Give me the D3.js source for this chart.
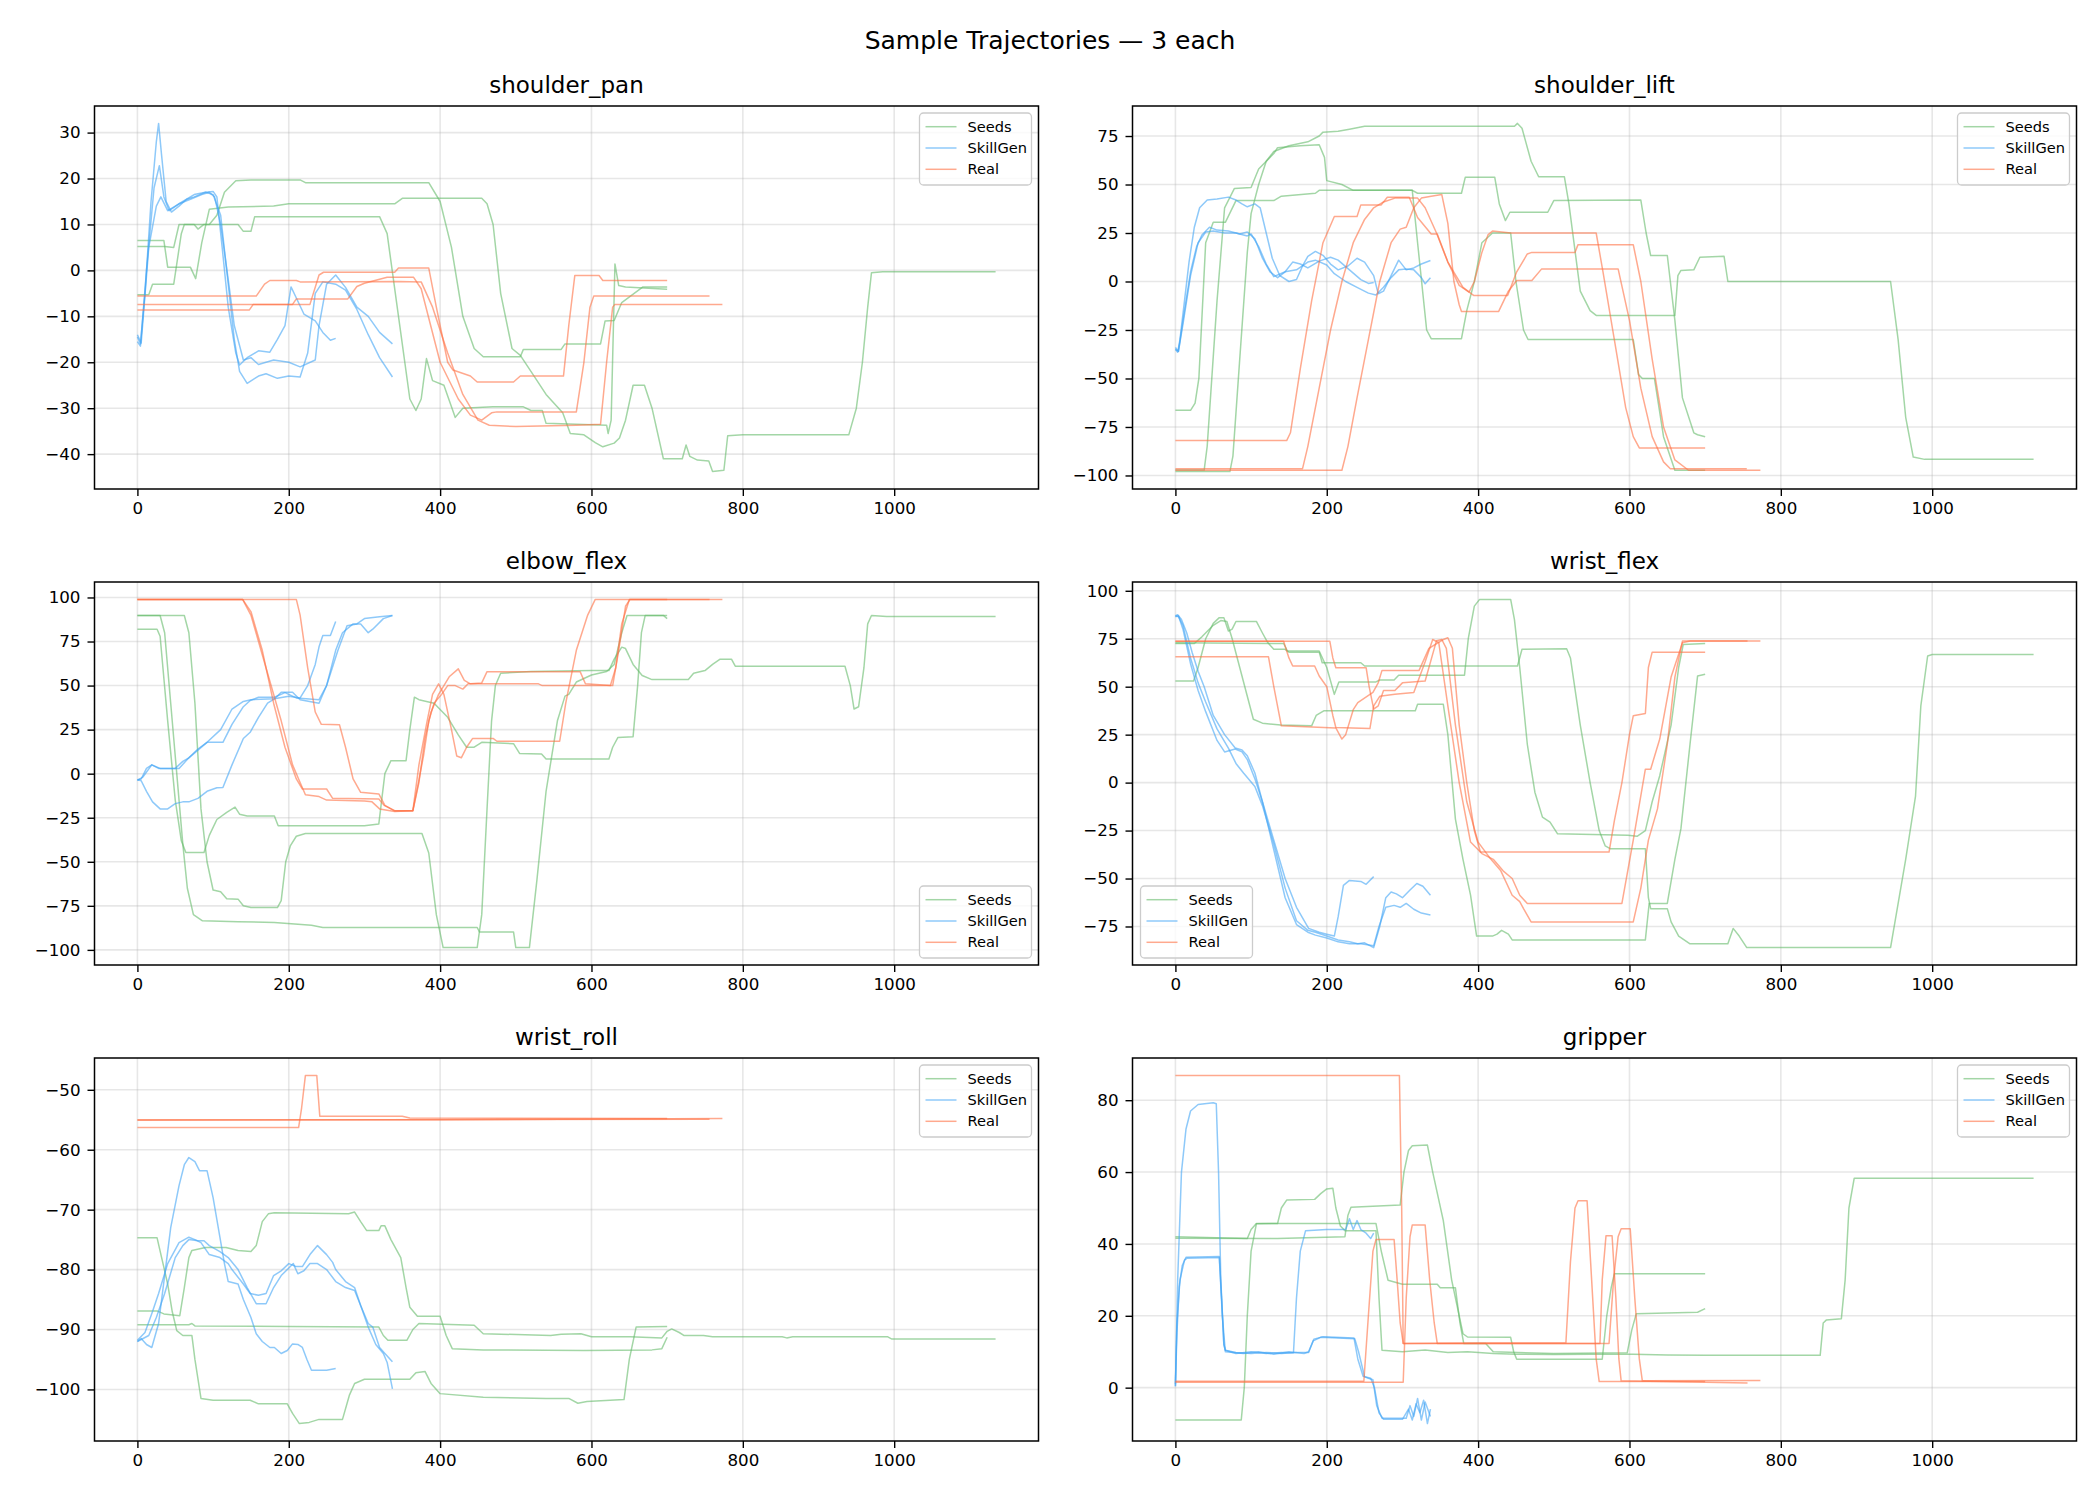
<!DOCTYPE html>
<html><head><meta charset="utf-8">
<script src="https://cdn.jsdelivr.net/npm/d3@7"></script>
<style>body{margin:0;background:#fff}svg{display:block;font-family:"DejaVu Sans",sans-serif}</style>
</head><body><svg id="chart" width="2100" height="1500"></svg>
<script>
const chartTitle = "Sample Trajectories \u2014 3 each";
const jointNames = ["shoulder_pan","shoulder_lift","elbow_flex","wrist_flex","wrist_roll","gripper"];
const seriesNames = ["Seeds","SkillGen","Real"];
const xTicks = [0,200,400,600,800,1000];
const panTicks = [-40,-30,-20,-10,0,10,20,30];
const liftTicks = [-100,-75,-50,-25,0,25,50,75];
const elbowTicks = [-100,-75,-50,-25,0,25,50,75,100];
const flexTicks = [-75,-50,-25,0,25,50,75,100];
const rollTicks = [-100,-90,-80,-70,-60,-50];
const gripTicks = [0,20,40,60,80];

// ---------- shoulder_pan ----------
const panSeeds = [
 [[0,5.2],[36,5.2],[48,5.0],[55,10],[95,10],[105,12],[115,17],[130,19.5],[150,19.7],[215,19.7],[222,19.1],[385,19.1],[400,15],[415,5],[430,-10],[445,-17],[457,-18.8],[506,-18.8],[510,-17.2],[560,-17.2],[565,-16],[612,-16],[618,-11],[630,-10.9],[640,-7],[668,-3.6],[700,-3.6]],
 [[0,6.5],[35,6.5],[40,0.7],[70,0.7],[77,-1.8],[85,6],[95,13.3],[120,13.8],[180,14],[200,14.5],[340,14.5],[350,15.7],[455,15.7],[462,14.5],[470,10],[480,-5],[495,-17],[506,-18.5],[520,-22],[540,-27],[562,-31],[572,-35.5],[590,-35.8],[605,-37.5],[615,-38.4],[630,-37.6],[637,-36.5],[645,-32.6],[655,-25],[670,-25],[680,-30],[695,-41],[720,-41],[725,-38],[730,-40.5],[740,-41.3],[755,-41.5],[760,-43.8],[775,-43.5],[780,-36],[800,-35.8],[940,-35.8],[950,-30],[958,-20],[965,-8],[970,-0.5],[985,-0.3],[1134,-0.3]],
 [[0,-5.3],[15,-5.3],[20,-3],[48,-3],[58,8],[62,10],[75,10],[80,9],[88,10],[133,10],[140,8.5],[150,8.5],[155,11.7],[320,11.7],[330,8],[345,-10],[360,-28],[368,-30.5],[375,-28],[382,-19.2],[390,-24],[405,-25],[420,-32],[430,-30],[470,-29.7],[510,-29.7],[520,-30.5],[535,-30.5],[540,-33.3],[620,-33.7],[622,-35.5],[626,-32.6],[631,1.4],[636,-3.3],[645,-3.6],[700,-4.1]]
];
const panSkill = [
 [[0,-14.5],[4,-16],[10,-5],[18,15],[25,28],[28,32],[32,25],[38,15],[45,12.7],[55,14],[65,15.5],[75,16],[90,17],[100,17.2],[105,16],[112,5],[120,-8],[130,-18],[135,-20.6],[145,-19],[160,-17.5],[175,-17.8],[185,-15],[195,-12],[203,-3.6],[210,-6],[220,-9.5],[235,-11],[245,-13.5],[255,-15.2],[262,-14.8]],
 [[0,-15.5],[4,-16.5],[12,0],[22,18],[29,22.8],[35,16],[42,13],[55,14.5],[70,15.5],[85,16.5],[95,17],[102,16],[110,10],[120,-2],[128,-12],[140,-19.5],[150,-19],[160,-20.5],[180,-19.5],[200,-20],[215,-21],[235,-19.5],[240,-12],[250,-3],[262,-1],[275,-3.7],[290,-8],[305,-10],[320,-13.5],[337,-16]],
 [[0,-14],[5,-15.8],[15,5],[25,14],[31,16],[40,13],[50,14],[60,15],[75,16.5],[90,17],[100,16.5],[110,12],[118,0],[128,-15],[135,-22],[145,-24.6],[160,-23],[170,-22.5],[185,-23.5],[200,-23],[215,-23.2],[225,-18],[235,-5],[245,-2.5],[262,-3],[275,-4.3],[290,-8.5],[305,-14],[320,-19],[337,-23.2]]
];
const panReal = [
 [[0,-5.6],[157,-5.6],[168,-3],[175,-2.2],[210,-2.2],[215,-2.5],[345,-2.4],[375,-2.5],[390,-8],[410,-18],[430,-27],[450,-32.6],[465,-33.7],[500,-34],[580,-33.7],[612,-33.5],[620,-20],[628,-8],[631,-7.4],[773,-7.4]],
 [[0,-8.6],[148,-8.6],[153,-7.4],[205,-7.4],[210,-6.2],[278,-6.2],[290,-3.5],[300,-2.8],[330,-1.5],[365,-1.5],[375,-4],[400,-20],[424,-28],[440,-31.5],[455,-32.6],[468,-31],[475,-30.8],[580,-30.8],[590,-20],[598,-8],[603,-5.6],[756,-5.6]],
 [[0,-7.4],[228,-7.4],[240,-1],[246,-0.4],[340,-0.4],[345,0.5],[385,0.5],[395,-8],[410,-20],[417,-21.7],[440,-23],[449,-24.3],[497,-24.3],[506,-23],[563,-23],[570,-12],[578,-1.1],[610,-1.1],[615,-2.2],[700,-2.2]]
];

// ---------- shoulder_lift ----------
const liftSeeds = [
 [[0,-98],[72,-98],[76,-90],[85,-40],[95,15],[100,35],[110,50],[120,62],[130,67],[150,70],[175,72],[190,75],[195,77],[215,77.5],[230,78.5],[250,80],[448,80],[452,81.5],[458,79],[470,62],[480,54],[514,54],[520,40],[535,-5],[548,-15],[556,-17.5],[660,-17.5],[664,3],[668,5.7],[685,6],[693,12.5],[725,13],[730,0],[945,0],[955,-30],[965,-70],[975,-90.5],[990,-91.7],[1134,-91.7]],
 [[0,-66.4],[20,-66.4],[26,-62.7],[31,-50],[40,20],[50,30.5],[66,30.5],[80,41.7],[130,41.7],[140,44],[185,45.5],[190,47],[313,47],[320,45.5],[378,45.5],[383,53.7],[422,53.7],[428,40],[436,31.4],[442,35.7],[492,35.7],[500,41.7],[615,42],[622,25],[628,13.4],[650,13.4],[660,-20],[670,-60],[685,-78],[690,-79],[700,-80]],
 [[0,-97.2],[38,-97.2],[42,-85],[55,-10],[65,38],[78,48],[100,48.5],[110,58],[130,66],[135,69],[165,70],[190,70.5],[197,64],[200,52],[220,50],[235,47],[313,47],[320,20],[332,-25],[338,-29.5],[378,-29.5],[385,-15],[395,0],[405,20],[419,25],[443,25],[450,0],[460,-25],[466,-29.9],[605,-29.9],[612,-48],[617,-50],[633,-50],[645,-80],[660,-97.3],[700,-97.3]]
];
const liftSkill = [
 [[0,-35],[3,-36.5],[6,-30],[12,-10],[18,10],[25,28],[32,38],[42,42],[55,42.5],[70,43.5],[80,42],[88,40],[95,38.5],[105,40],[112,38],[120,25],[128,12],[138,3],[150,0],[160,1],[168,8],[175,13],[185,15.5],[195,13.5],[205,9],[215,6],[228,8],[240,12],[250,10],[262,3],[268,-6.3],[275,-5],[285,3],[295,11],[305,6],[315,7],[325,9],[337,10.8]],
 [[0,-34],[4,-36],[10,-20],[20,5],[28,18],[35,24],[45,28],[55,26.5],[70,26],[85,24.5],[95,25.5],[105,22],[115,12],[125,5],[135,2],[145,5],[155,10],[165,9],[175,7],[190,10.5],[205,12.5],[215,11],[230,6],[245,1],[255,-1],[262,-0.5]],
 [[0,-35],[4,-36],[10,-22],[20,3],[30,20],[40,25.5],[50,26],[65,25],[80,25],[95,23.5],[100,24.5],[110,18],[120,9],[130,2.5],[145,5],[160,6],[175,10],[185,11],[200,8.5],[210,4],[225,0],[240,-3],[255,-6],[265,-7],[275,-3],[285,2],[295,6],[305,6.5],[315,6],[325,2],[330,-1.2],[337,1.9]]
];
const liftReal = [
 [[0,-82],[147,-82],[152,-78],[165,-45],[180,-10],[195,20],[210,33.5],[240,33.5],[245,39.5],[272,39.5],[280,43.4],[309,43.4],[320,33],[338,24.5],[346,24.5],[360,10],[380,-3],[394,-7.2],[439,-7.2],[451,5],[465,14.2],[471,15],[528,15],[532,19],[605,19],[615,0],[630,-40],[645,-75],[660,-92],[678,-97.3],[773,-97.3]],
 [[0,-97.3],[220,-97.3],[228,-85],[240,-60],[255,-30],[270,0],[285,20],[297,27],[305,28],[315,38],[325,43],[338,44],[352,44.8],[360,30],[368,0],[375,-12],[378,-15.5],[427,-15.5],[440,-5],[451,0.5],[471,0.5],[484,6.5],[585,6.5],[600,-20],[615,-55],[630,-80],[645,-93],[654,-96.5],[755,-96.5]],
 [[0,-96.5],[168,-96.5],[175,-85],[190,-55],[205,-25],[220,0],[235,20],[250,32],[262,38],[275,41],[290,43],[320,43],[330,38],[345,25],[360,10],[375,-2],[388,-5.5],[395,0],[405,15],[413,24],[419,26],[443,25],[556,25],[565,5],[580,-30],[595,-65],[605,-80],[613,-85.8],[700,-85.8]]
];

// ---------- elbow_flex ----------
const elbowSeeds = [
 [[0,82],[26,82],[30,78],[40,30],[50,-15],[58,-38],[64,-44.7],[88,-44.7],[95,-35],[105,-26],[118,-22],[129,-19],[135,-23],[145,-24],[181,-24],[186,-29.5],[300,-29.5],[319,-28.5],[327,0],[335,7.4],[355,7.4],[360,25],[366,43.4],[372,42],[392,40],[410,32],[424,22],[435,15],[445,15],[455,17.8],[497,17],[505,11.5],[534,11.2],[540,8.3],[623,8.3],[628,15],[635,20.6],[655,21],[661,50],[666,80],[671,89.8],[700,89.8]],
 [[0,89.8],[62,89.8],[68,80],[76,40],[84,-20],[92,-50],[100,-66],[110,-67],[118,-71],[133,-71.2],[140,-75],[150,-76],[185,-76],[190,-72],[196,-50],[202,-41],[210,-35.5],[222,-34],[376,-34],[385,-45],[395,-80],[404,-98.7],[449,-98.7],[455,-80],[462,-20],[468,30],[473,50],[480,57],[520,58],[560,58.3],[600,58.5],[623,58.5],[630,65],[640,71.8],[645,71],[655,62],[667,55.7],[680,53.4],[728,53.4],[735,57],[750,58.5],[760,62],[770,65],[785,65],[790,61],[935,61],[942,50],[947,36.7],[953,38],[960,60],[965,85],[970,89.8],[990,89.2],[1134,89.2]],
 [[0,89.8],[30,89.8],[36,80],[44,40],[52,0],[60,-40],[66,-65],[74,-80],[86,-83.5],[133,-84],[181,-84.5],[230,-86],[245,-87.3],[449,-87.3],[452,-89.8],[497,-89.8],[500,-98.7],[518,-98.7],[528,-60],[540,-10],[555,30],[565,44],[570,45],[580,52],[600,56],[620,58],[630,62],[640,80],[647,89.8],[695,89.8],[700,88]]
];
const elbowSkill = [
 [[0,-3.4],[5,-3],[12,3],[19,5],[28,3],[50,3],[60,7],[68,9],[80,14],[92,17.8],[113,17.8],[125,28],[140,38],[149,41.5],[160,43.4],[181,43.4],[195,46],[210,43],[240,42],[250,50],[262,70],[271,80],[285,85],[295,85],[305,80],[311,82],[325,88],[337,89.8]],
 [[0,-3.8],[7,-2],[19,5],[30,3],[55,3],[68,9],[92,17.8],[110,25],[125,36.7],[140,41],[150,42],[181,42.5],[200,44],[215,43],[225,50],[235,62],[240,72],[245,78.4],[255,78.4],[262,86.4]],
 [[0,-3.4],[5,-4],[12,-10],[20,-16],[30,-20],[40,-20],[50,-17],[60,-16],[68,-16],[80,-14],[92,-10],[105,-8],[113,-7.8],[125,5],[140,20],[149,23.5],[160,32],[172,40],[181,42.4],[190,46.2],[205,46.2],[215,42],[240,40],[250,50],[265,70],[277,84],[290,85],[300,88],[320,89],[337,89.8]]
];
const elbowReal = [
 [[0,98.9],[139,98.9],[150,92],[165,70],[180,40],[195,15],[210,-3],[218,-8.7],[250,-8.7],[258,-14],[319,-14.4],[326,-18],[340,-21],[364,-21],[372,-5],[380,20],[388,35],[398,45],[412,55],[424,59.5],[432,53],[440,51],[455,51.5],[462,57.9],[585,57.9],[592,51],[625,50],[632,60],[640,85],[650,98.9],[756,98.9]],
 [[0,98.9],[139,98.9],[150,90],[170,60],[190,30],[205,5],[215,-5],[222,-12],[240,-13],[250,-15],[300,-15.5],[310,-16],[320,-20],[340,-21.5],[364,-21],[370,-8],[378,10],[385,30],[392,40],[402,45],[410,50],[420,50],[430,48],[437,51],[530,51],[535,50],[628,50],[636,70],[645,95],[651,98.9],[700,98.9]],
 [[0,98.9],[210,98.9],[215,90],[225,60],[235,35],[243,28],[267,27.8],[275,15],[285,-3],[295,-10.6],[319,-11.5],[327,-18],[339,-21],[364,-21],[372,5],[382,28],[390,45],[398,51],[405,45],[415,25],[422,10],[428,9],[435,15],[443,20],[470,20],[475,18.4],[558,18.4],[566,40],[580,70],[595,90],[605,98.9],[773,98.9]]
];

// ---------- wrist_flex ----------
const flexSeeds = [
 [[0,53],[24,53],[30,60],[40,75],[50,83],[58,86],[64,86],[70,79],[75,80],[80,84],[107,84],[115,78],[122,73],[130,69.5],[145,69.5],[150,68],[190,68],[194,62.5],[245,62.5],[250,60.8],[452,60.8],[458,69.5],[517,69.8],[522,65],[535,30],[548,0],[560,-25],[568,-33],[575,-34.5],[621,-34.5],[625,-60],[628,-65.7],[650,-65.7],[655,-72.6],[665,-80],[680,-84],[730,-84],[737,-76],[745,-80],[755,-86],[945,-86],[965,-40],[978,-7],[985,40],[994,66],[1000,66.8],[1134,66.8]],
 [[0,72.5],[25,72.5],[35,76],[50,82],[60,84.5],[68,84],[75,75],[85,60],[95,45],[103,33],[115,31],[139,30],[180,29.6],[186,35],[196,37.4],[317,37.4],[320,40.8],[354,40.8],[360,25],[370,-19],[380,-40],[390,-58.7],[398,-80],[419,-80],[425,-79],[431,-77],[440,-79],[445,-82],[621,-82],[626,-63],[650,-63],[660,-40],[668,-24],[680,20],[690,55.6],[700,56.5]],
 [[0,72.9],[143,72.5],[148,68.6],[190,68.6],[200,60],[210,46],[216,52.5],[265,52.5],[270,53.5],[289,53.5],[295,56],[382,56],[387,75],[395,92],[402,95.5],[443,95.5],[448,85],[455,60],[465,20],[475,-5],[485,-18],[495,-20.6],[505,-26.7],[598,-27.5],[610,-28],[621,-25],[630,-10],[640,3.6],[655,30],[665,60],[671,72],[700,72.5]]
];
const flexSkill = [
 [[0,87],[3,87.5],[8,85],[15,78],[22,68],[30,58],[38,50],[50,35],[65,25],[79,18],[88,17],[95,14],[105,5],[115,-10],[130,-30],[145,-50],[160,-65],[176,-76],[190,-78],[200,-79],[210,-80],[215,-70],[222,-53.6],[230,-51],[245,-51.5],[252,-53],[262,-49]],
 [[0,87],[4,86.5],[10,82],[20,65],[30,52],[40,42],[55,28],[70,18],[80,10],[90,5],[105,-2],[115,-12],[130,-32],[145,-55],[160,-72],[175,-77],[185,-78],[200,-80],[215,-82],[230,-83],[241,-84],[250,-83.5],[262,-86],[270,-75],[278,-60],[285,-57],[292,-58],[300,-60],[310,-56],[319,-52.6],[327,-54],[337,-58.7]],
 [[0,86.5],[4,87],[10,80],[20,62],[30,48],[40,37],[55,22],[65,16],[79,17.5],[88,16],[95,12],[105,2],[115,-10],[130,-35],[145,-60],[160,-74],[175,-78],[185,-79.5],[200,-81],[215,-83],[230,-84],[245,-84],[262,-85],[269,-75],[278,-65],[289,-64],[297,-65],[305,-63],[315,-66],[325,-68],[337,-69]]
];
const flexReal = [
 [[0,73.7],[204,73.7],[208,65],[212,59.9],[252,59.9],[256,50],[262,38.3],[268,40],[275,48],[290,48],[300,52],[330,53],[345,74],[352,74.6],[358,70],[370,30],[385,-10],[400,-31],[415,-39],[430,-46],[445,-58.7],[455,-62],[460,-65.7],[470,-72.6],[605,-72.6],[615,-55],[625,-30],[637,-13.7],[650,20],[660,55],[670,73.8],[773,73.8]],
 [[0,73.7],[143,73.7],[150,65],[155,60.8],[184,60.8],[190,55.6],[200,50],[208,35],[212,28.7],[257,28.2],[262,40],[270,45],[290,46],[315,47],[330,63],[340,74.6],[348,73],[360,40],[375,0],[390,-31],[405,-37],[420,-40],[433,-46],[445,-50],[455,-58.7],[465,-63],[590,-63],[605,-30],[621,7],[628,7],[640,22.7],[655,55],[670,72.9],[680,73.8],[756,73.8]],
 [[0,65.6],[123,65.6],[130,50],[140,29.6],[212,28.5],[220,22.7],[225,25],[235,38],[241,41.7],[261,47],[268,52],[273,58.5],[322,58.5],[335,70],[354,74.6],[360,75.5],[366,70],[375,30],[385,0],[395,-25],[403,-36.2],[573,-36.2],[580,-20],[590,0],[600,25],[605,34.8],[621,36],[625,60],[630,68],[700,68]]
];

// ---------- wrist_roll ----------
const rollSeeds = [
 [[0,-74.7],[26,-74.7],[32,-78],[40,-82.4],[46,-87],[52,-90.2],[60,-91],[72,-91],[76,-95],[84,-101.5],[100,-101.8],[149,-101.8],[160,-102.4],[198,-102.4],[205,-104],[214,-105.7],[227,-105.5],[240,-105],[271,-105],[280,-101],[287,-99],[300,-98.3],[360,-98.3],[368,-97.2],[380,-97],[388,-99],[400,-100.7],[457,-101.3],[540,-101.5],[570,-101.5],[582,-102.3],[594,-102],[643,-101.7],[650,-95],[659,-89.6],[700,-89.5]],
 [[0,-86.9],[26,-86.9],[35,-87.4],[56,-87.7],[62,-83],[68,-78],[72,-76.8],[90,-76.3],[117,-76.3],[133,-76.8],[150,-77],[157,-76],[165,-72],[173,-70.7],[181,-70.5],[279,-70.7],[287,-70.4],[295,-72],[303,-73.5],[319,-73.5],[322,-72.7],[327,-72.7],[335,-75],[348,-78],[355,-83],[360,-86.3],[370,-87.8],[400,-87.8],[408,-91],[416,-93.2],[457,-93.4],[590,-93.5],[680,-93.4],[693,-93.2],[700,-91.3]],
 [[0,-89.2],[68,-89.2],[72,-89],[76,-89.4],[200,-89.5],[319,-89.6],[325,-91],[331,-91.8],[356,-91.8],[364,-90],[372,-89],[445,-89.3],[451,-90],[457,-90.7],[546,-91],[560,-90.8],[586,-90.7],[600,-91.2],[651,-91.2],[693,-91.4],[700,-90.3],[706,-89.9],[716,-90.5],[722,-91],[748,-91],[760,-91.2],[852,-91.2],[858,-91.4],[866,-91.2],[991,-91.2],[997,-91.6],[1134,-91.6]]
];
const rollSkill = [
 [[0,-92],[5,-91.5],[12,-92.5],[19,-93],[28,-89],[35,-82],[44,-73],[55,-66],[62,-62.5],[68,-61.3],[76,-62],[82,-63.5],[92,-63.5],[100,-68],[109,-74.6],[115,-79],[120,-82],[133,-82.4],[140,-85],[150,-88],[157,-90.7],[165,-92],[175,-93],[181,-93],[190,-94],[198,-93.5],[205,-92.4],[212,-92.5],[218,-93],[224,-95],[230,-96.8],[250,-96.8],[262,-96.5]],
 [[0,-91.8],[10,-90.5],[20,-87],[28,-84],[40,-79],[55,-75.5],[68,-74.6],[76,-75],[84,-75.5],[95,-77.5],[109,-78],[120,-79],[125,-80],[140,-82.4],[149,-84],[160,-84.3],[170,-84],[180,-81],[190,-80.2],[200,-79],[210,-79.5],[218,-79.5],[228,-77.5],[238,-76],[250,-77.5],[258,-78.8],[262,-80],[275,-82],[287,-83],[295,-86],[305,-89],[311,-89.6],[320,-93],[327,-94],[337,-95.4]],
 [[0,-92],[15,-91],[25,-88],[36,-84],[50,-78],[60,-76],[68,-75],[80,-75.2],[88,-75.2],[95,-76],[109,-77],[120,-78],[133,-80],[145,-83],[157,-85.7],[170,-85.7],[180,-83],[190,-81],[206,-79],[212,-80.7],[220,-80.2],[228,-79],[238,-79],[250,-80],[262,-82],[275,-83],[287,-83.5],[295,-86],[305,-89.6],[315,-92.5],[325,-94],[330,-95.5],[337,-99.9]]
];
const rollReal = [
 [[0,-56.3],[213,-56.3],[217,-53],[222,-47.6],[237,-47.6],[241,-54.4],[350,-54.4],[360,-54.7],[700,-54.8]],
 [[0,-55],[400,-55],[773,-54.8]],
 [[0,-55.1],[756,-54.9]]
];

// ---------- gripper ----------
const gripSeeds = [
 [[0,-9],[87,-9],[91,0],[95,20],[100,38],[107,45.6],[135,45.7],[140,50],[147,52.2],[184,52.4],[192,54],[200,55.3],[208,55.5],[212,50],[218,45],[224,43.7],[265,43.7],[269,25],[273,10.4],[300,10],[330,10.5],[360,9.8],[386,10],[420,9.5],[451,9.3],[500,9.2],[550,9.3],[605,9.3],[650,9.1],[700,9],[800,9],[852,9],[856,18],[860,18.8],[880,19.2],[885,30],[890,50],[897,58.3],[1134,58.3]],
 [[0,41.6],[135,41.5],[224,42],[228,48],[232,50.2],[297,50.8],[302,60],[308,66],[313,67.3],[333,67.5],[340,60],[354,46.5],[365,30],[380,15],[386,14.1],[443,14],[447,10],[451,7.9],[564,7.9],[570,20],[576,28],[580,31.7],[700,31.7]],
 [[0,42],[95,41.5],[100,44],[107,45.7],[265,45.7],[272,38],[281,29.9],[300,28.8],[346,28.8],[350,27.8],[370,27.8],[376,18],[381,12.3],[410,12.3],[420,10],[500,9.5],[597,9.7],[603,16],[609,20.6],[690,21],[700,22]]
];
const gripSkill = [
 [[0,0.3],[3,30],[8,60],[14,72],[20,77],[30,78.8],[50,79.3],[54,79],[57,60],[60,30],[64,12],[66,10.4],[80,9.5],[100,10],[120,9.5],[140,9.8],[156,9.7],[160,25],[165,38],[172,43.7],[200,44],[225,44],[230,47],[235,44],[240,46.5],[245,44],[252,43],[258,41.5],[262,43]],
 [[0,0.5],[2,15],[5,28],[9,34],[14,36.3],[58,36.5],[61,25],[64,12],[66,10.4],[80,9.8],[100,9.5],[120,9.8],[140,9.5],[160,9.8],[176,9.8],[182,13],[192,14],[237,13.6],[242,10],[250,3],[255,2.6],[261,2.2],[266,-5],[273,-8.5],[305,-8.5],[310,-5],[315,-8],[320,-3],[325,-9],[330,-4],[337,-8]],
 [[0,1],[2,18],[6,30],[12,35.5],[15,36],[58,36.2],[62,20],[66,10],[90,9.5],[110,10],[130,9.3],[150,10],[170,9.5],[176,10],[183,13.5],[195,14.2],[236,13.8],[241,8],[248,3.2],[258,2.6],[263,0],[269,-7],[275,-8.8],[300,-8.8],[308,-6],[313,-9],[318,-4.5],[323,-7],[328,-3.5],[333,-10],[337,-6]]
];
const gripReal = [
 [[0,86.9],[296,86.9],[299,50],[301,12.3],[400,12.4],[516,12.5],[522,35],[528,50],[532,52],[544,52],[550,30],[556,8],[560,1.7],[700,1.7]],
 [[0,1.8],[249,1.8],[255,20],[261,38],[265,41.2],[289,41.2],[293,30],[297,18],[301,12.3],[561,12.3],[564,30],[569,42.3],[577,42.3],[582,25],[586,8],[589,1.9],[756,1.3]],
 [[0,1.5],[301,1.5],[305,25],[310,42],[313,45.3],[330,45.3],[336,30],[342,18],[346,12.3],[573,12.3],[579,30],[585,42],[589,44.2],[601,44.2],[607,25],[613,8],[617,1.9],[773,2]]
];

const legendCorners = ["tr","tr","br","bl","tr","tr"];

// ---------- build ----------
const panels = [
 {name: jointNames[0], groups: [panSeeds, panSkill, panReal], yTicks: panTicks},
 {name: jointNames[1], groups: [liftSeeds, liftSkill, liftReal], yTicks: liftTicks},
 {name: jointNames[2], groups: [elbowSeeds, elbowSkill, elbowReal], yTicks: elbowTicks},
 {name: jointNames[3], groups: [flexSeeds, flexSkill, flexReal], yTicks: flexTicks},
 {name: jointNames[4], groups: [rollSeeds, rollSkill, rollReal], yTicks: rollTicks},
 {name: jointNames[5], groups: [gripSeeds, gripSkill, gripReal], yTicks: gripTicks}
];
const colors = ["#66bb6a", "#42a5f5", "#ff7043"];
const colLeft = [94.5, 1132.5], rowTop = [106, 582, 1058];
const axW = 944, axH = 383;
const fmt = d => d < 0 ? "\u2212" + Math.abs(d) : String(d);

const svg = d3.select("#chart");
svg.append("rect").attr("width", 2100).attr("height", 1500).attr("fill", "#fff");
svg.append("text").attr("x", 1050).attr("y", 48.5).attr("text-anchor", "middle")
  .attr("font-size", 25).attr("fill", "#000").text(chartTitle);

panels.forEach((p, i) => {
  const L = colLeft[i % 2], T = rowTop[Math.floor(i / 2)];
  const g = svg.append("g").attr("transform", `translate(${L},${T})`);
  const all = p.groups.flat(2);
  const xs = p.groups.flat(1).flat().map(d => d[0]);
  const ys = p.groups.flat(1).flat().map(d => d[1]);
  const [x0, x1] = d3.extent(xs), [y0, y1] = d3.extent(ys);
  const px = (x1 - x0) * 0.05, py = (y1 - y0) * 0.05;
  const x = d3.scaleLinear().domain([x0 - px, x1 + px]).range([0, axW]);
  const y = d3.scaleLinear().domain([y0 - py, y1 + py]).range([axH, 0]);

  // grid
  const grid = g.append("g").attr("stroke", "#b0b0b0").attr("stroke-opacity", 0.3).attr("stroke-width", 1.6);
  xTicks.forEach(t => grid.append("line").attr("x1", x(t)).attr("x2", x(t)).attr("y1", 0).attr("y2", axH));
  p.yTicks.forEach(t => grid.append("line").attr("y1", y(t)).attr("y2", y(t)).attr("x1", 0).attr("x2", axW));

  // lines
  const line = d3.line().x(d => x(d[0])).y(d => y(d[1]));
  p.groups.forEach((grp, k) => {
    grp.forEach(series => {
      g.append("path").datum(series).attr("d", line).attr("fill", "none")
        .attr("stroke", colors[k]).attr("stroke-opacity", 0.6).attr("stroke-width", 1.5)
        .attr("stroke-linejoin", "round");
    });
  });

  // axes
  const ax = g.append("g").attr("transform", `translate(0,${axH})`)
    .call(d3.axisBottom(x).tickValues(xTicks).tickSize(7).tickPadding(6).tickFormat(fmt));
  const ay = g.append("g")
    .call(d3.axisLeft(y).tickValues(p.yTicks).tickSize(7).tickPadding(7).tickFormat(fmt));
  [ax, ay].forEach(a => {
    a.select(".domain").remove();
    a.selectAll("line").attr("stroke", "#000").attr("stroke-width", 1.4);
    a.selectAll("text").attr("font-size", 16.7).attr("fill", "#000").attr("font-family", "DejaVu Sans");
  });

  // frame
  g.append("rect").attr("width", axW).attr("height", axH).attr("fill", "none")
    .attr("stroke", "#000").attr("stroke-width", 1.5);

  // title
  g.append("text").attr("x", axW / 2).attr("y", -13).attr("text-anchor", "middle")
    .attr("font-size", 23).attr("fill", "#000").text(p.name);

  // legend
  const lw = 112, lh = 72, inset = 7;
  const corner = legendCorners[i];
  const lx = corner.endsWith("r") ? axW - inset - lw : inset + 1;
  const ly = corner.startsWith("t") ? inset : axH - inset - lh;
  const lg = g.append("g").attr("transform", `translate(${lx},${ly})`);
  lg.append("rect").attr("width", lw).attr("height", lh).attr("rx", 4)
    .attr("fill", "#fff").attr("fill-opacity", 0.8).attr("stroke", "#cccccc").attr("stroke-width", 1.3);
  seriesNames.forEach((nm, k) => {
    const cy = 13.7 + k * 21.3;
    lg.append("line").attr("x1", 6).attr("x2", 37).attr("y1", cy).attr("y2", cy)
      .attr("stroke", colors[k]).attr("stroke-opacity", 0.6).attr("stroke-width", 1.5);
    lg.append("text").attr("x", 48).attr("y", cy).attr("dy", "0.35em")
      .attr("font-size", 14.6).attr("fill", "#000").text(nm);
  });
});
</script></body></html>
